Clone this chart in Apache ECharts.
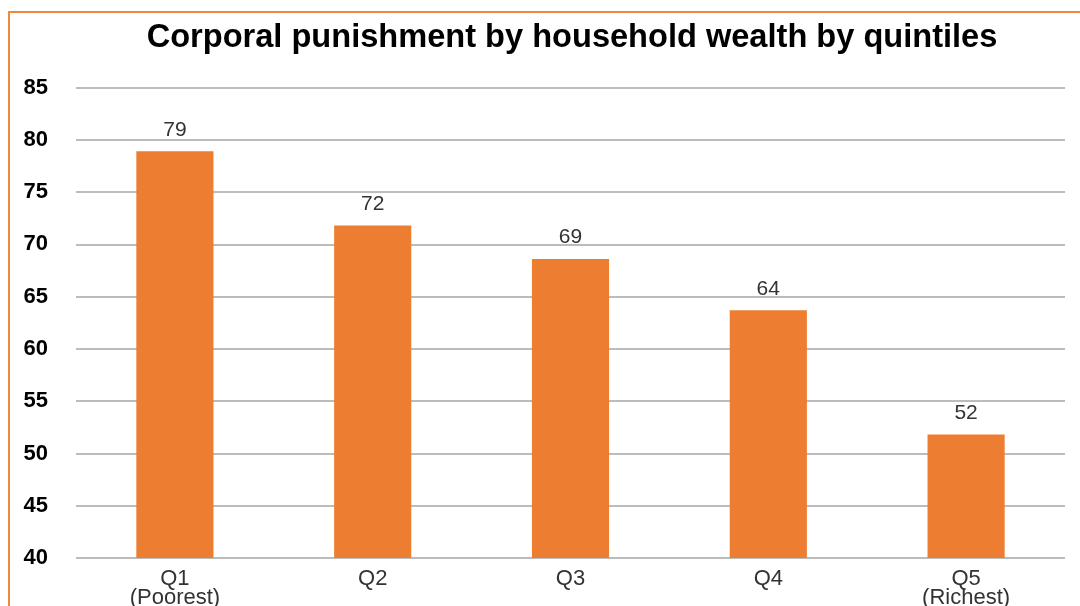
<!DOCTYPE html>
<html>
<head>
<meta charset="utf-8">
<script src="https://cdn.jsdelivr.net/npm/echarts@6/dist/echarts.min.js"></script>
<style>
html,body{margin:0;padding:0;background:#fff;}
#frame{position:absolute;left:8px;top:11px;width:1100px;height:700px;border-left:2px solid #F0883E;border-top:2px solid #F0883E;}
#chart{position:absolute;left:0;top:0;width:1080px;height:606px;}
</style>
</head>
<body>
<div id="frame"></div>
<div id="chart"></div>
<script>
const categories = ['Q1\n(Poorest)', 'Q2', 'Q3', 'Q4', 'Q5\n(Richest)'];
const values = [78.9, 71.8, 68.6, 63.7, 51.8];
const titleText = 'Corporal punishment by household wealth by quintiles';

const chart = echarts.init(document.getElementById('chart'), null, {renderer: 'canvas'});
chart.setOption({
  animation: false,
  backgroundColor: 'transparent',
  title: {
    text: titleText,
    left: 567, top: 17, textAlign: 'center',
    textStyle: {fontFamily: 'Liberation Sans', fontWeight: 'bold', fontSize: 32.6, color: '#000'}
  },
  grid: {left: 76, right: 15, top: 87.5, bottom: 48, containLabel: false, outerBoundsMode: 'none'},
  xAxis: {
    type: 'category', data: categories,
    axisLine: {show: false}, axisTick: {show: false},
    axisLabel: {fontFamily: 'Liberation Sans', fontSize: 22, color: '#333', lineHeight: 19, margin: 11}
  },
  yAxis: {
    type: 'value', min: 40, max: 85, interval: 5,
    axisLine: {show: false}, axisTick: {show: false},
    axisLabel: {fontFamily: 'Liberation Sans', fontWeight: 'bold', fontSize: 22, color: '#000', margin: 28},
    splitLine: {lineStyle: {color: '#A6A6A6', width: 1.5}}
  },
  series: [{
    type: 'bar', data: values, barWidth: '39%',
    itemStyle: {color: '#ED7D31'},
    label: {show: true, position: 'top', distance: 11, fontFamily: 'Liberation Sans', fontSize: 21, color: '#333',
      formatter: p => Math.round(p.value)}
  }]
});
</script>
</body>
</html>
